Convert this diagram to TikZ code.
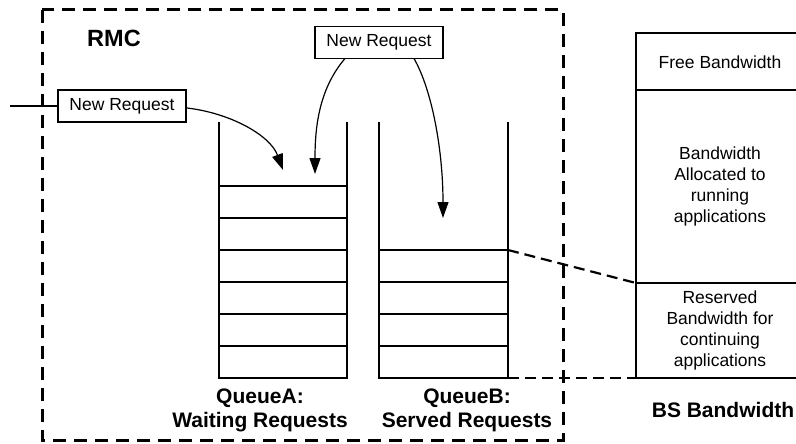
\documentclass[tikz,border=0pt]{standalone}
\usepackage{fontspec}
\setmainfont{Liberation Sans}
\usetikzlibrary{arrows.meta}
\begin{document}
\begin{tikzpicture}[x=1pt,y=-1pt,line width=1.2pt,
  reqbox/.style={draw,minimum width=128pt,minimum height=32pt,inner sep=0pt,font=\fontsize{17.5}{21}\selectfont},
  txt/.style={align=center,inner sep=0pt,font=\fontsize{17.5}{21}\selectfont},
  boldlbl/.style={inner sep=0pt,align=center,font=\bfseries\fontsize{21}{24}\selectfont},
  rmcline/.style={line width=3pt,dash pattern=on 13pt off 8pt},
  linkline/.style={line width=2.2pt,dash pattern=on 11pt off 6pt},
  arr/.style={-{Triangle[length=16pt,width=11pt]},line width=1.2pt}]
\useasboundingbox (0,0) rectangle (796,444);
% RMC dashed box
\draw[rmcline] (42,10) rectangle (563,440);
\node[inner sep=0pt,font=\bfseries\fontsize{23.5}{26}\selectfont] (rmc) at (114,38) {RMC};
% Queue A
\draw (219,122) -- (219,378) -- (347,378) -- (347,122);
\foreach \y in {186,218,250,282,314,346} \draw (219,\y) -- (347,\y);
% Queue B
\draw (379,122) -- (379,378) -- (508,378) -- (508,122);
\foreach \y in {250,282,314,346} \draw (379,\y) -- (508,\y);
% labels
\node[boldlbl] (qa) at (260,410) {QueueA:\\Waiting Requests};
\node[boldlbl] (qb) at (467,410) {QueueB:\\Served Requests};
% BS bandwidth
\draw (797,33) -- (636,33) -- (636,378) -- (797,378);
\draw (636,90) -- (797,90);
\draw (636,283) -- (797,283);
\node[txt] (free) at (720,62) {Free Bandwidth};
\node[txt] (alloc) at (720,186) {Bandwidth\\Allocated to\\running\\applications};
\node[txt] (resv) at (720,330) {Reserved\\Bandwidth for\\continuing\\applications};
\node[boldlbl] (bs) at (723,410) {BS Bandwidth};
% dashed links
\coordinate (qbtop) at (508,250);
\coordinate (bwres) at (636,283);
\coordinate (qbbot) at (508,378);
\coordinate (bwbot) at (636,378);
\draw[linkline] (qbtop) -- (bwres);
\draw[linkline] (qbbot) -- (bwbot);
% request boxes
\node[reqbox,fill=white] (req1) at (122,106) {New Request};
\node[reqbox] (req2) at (379,42.5) {New Request};
\coordinate (inl) at (10,106);
\draw (inl) -- (req1.west);
% arrows
\coordinate (a1s) at (187,108);
\coordinate (a1e) at (283,170);
\coordinate (a2s) at (345,58.5);
\coordinate (a2e) at (315,174);
\coordinate (a3s) at (414,58.5);
\coordinate (a3e) at (443,218);
\draw[arr] (a1s) .. controls (230,113) and (270,135) .. (a1e);
\draw[arr] (a2s) .. controls (318,90) and (315,130) .. (a2e);
\draw[arr] (a3s) .. controls (432,90) and (443,150) .. (a3e);
\end{tikzpicture}
\end{document}
